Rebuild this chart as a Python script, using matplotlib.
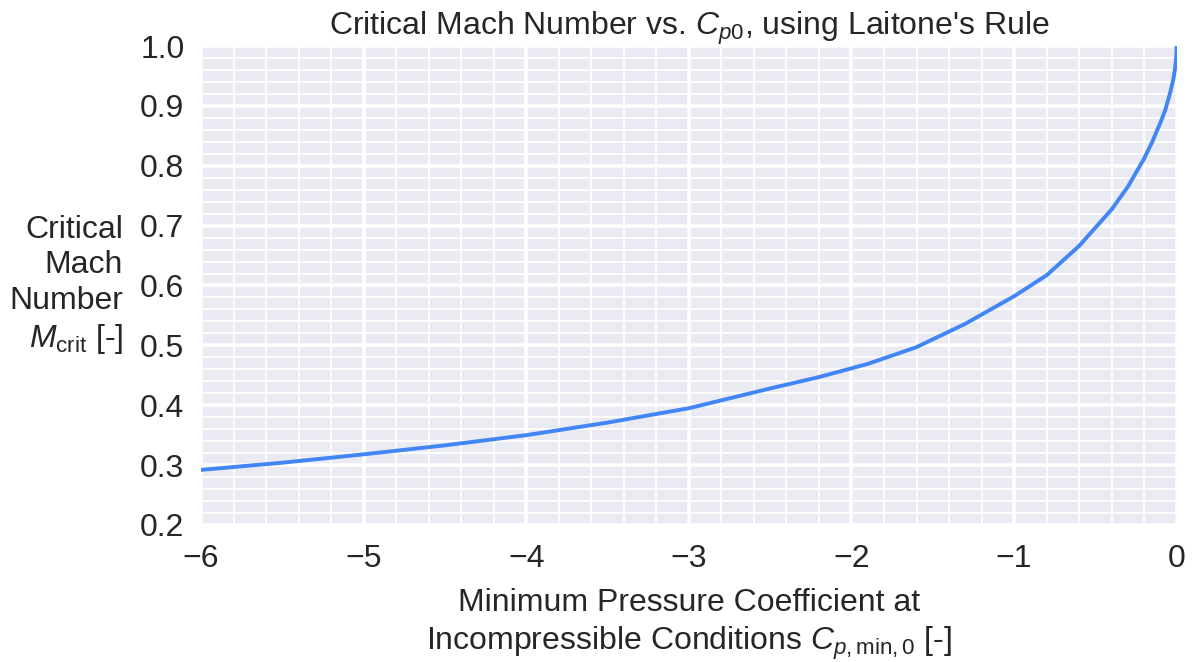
import matplotlib
matplotlib.use("Agg")
import matplotlib.pyplot as plt
import seaborn as sns
from matplotlib.ticker import MultipleLocator

# values
cp0 = [-6, -5.5, -5, -4.5, -4, -3.5, -3, -2.5, -2.2, -1.9, -1.6, -1.3,
       -1.0, -0.8, -0.6, -0.4, -0.3, -0.2, -0.15, -0.1, -0.07, -0.04,
       -0.02, -0.01, -0.003, 0]
m_crit = [0.292, 0.304, 0.318, 0.333, 0.350, 0.371, 0.395, 0.428, 0.447,
          0.469, 0.497, 0.536, 0.582, 0.617, 0.666, 0.727, 0.765, 0.812,
          0.840, 0.872, 0.893, 0.922, 0.945, 0.962, 0.980, 1.0]

sns.set_theme(style="darkgrid")
plt.rcParams['font.family'] = ['Liberation Sans', 'DejaVu Sans']
plt.rcParams['mathtext.fontset'] = 'custom'
plt.rcParams['mathtext.rm'] = 'Liberation Sans'
plt.rcParams['mathtext.it'] = 'Liberation Sans:italic'
plt.rcParams['mathtext.bf'] = 'Liberation Sans:bold'

fs = 23
txt = "#262626"
fig = plt.figure(figsize=(11.97, 6.62), dpi=100)
ax = fig.add_axes([0.168, 0.207, 0.815, 0.7235])

ax.plot(cp0, m_crit, color="#4285F4", linewidth=2.8)

ax.set_xlim(-6, 0)
ax.set_ylim(0.2, 1.0)
ax.xaxis.set_major_locator(MultipleLocator(1))
ax.xaxis.set_minor_locator(MultipleLocator(0.2))
ax.yaxis.set_major_locator(MultipleLocator(0.1))
ax.yaxis.set_minor_locator(MultipleLocator(0.02))
ax.grid(which="major", color="white", linewidth=2.6)
ax.grid(which="minor", color="white", linewidth=1.3)
ax.tick_params(which="both", length=0, labelsize=fs, colors=txt)
ax.tick_params(axis="y", pad=12)
ax.tick_params(axis="x", pad=14)
for s in ax.spines.values():
    s.set_visible(False)

ax.set_title(r"Critical Mach Number vs. $C_{p0}$, using Laitone's Rule",
             fontsize=fs, color=txt, pad=8)
ax.set_xlabel("Minimum Pressure Coefficient at\n"
              r"Incompressible Conditions $C_{p,\mathrm{min},0}$ [-]",
              fontsize=fs, color=txt, labelpad=10, linespacing=1.25)
ax.set_ylabel("Critical\nMach\nNumber\n$M_\\mathrm{crit}$ [-]",
              fontsize=fs, color=txt, rotation=0, linespacing=1.25,
              ha="right", va="center")
ax.yaxis.set_label_coords(-0.08, 0.50)

fig.savefig("out.png", dpi=100)
